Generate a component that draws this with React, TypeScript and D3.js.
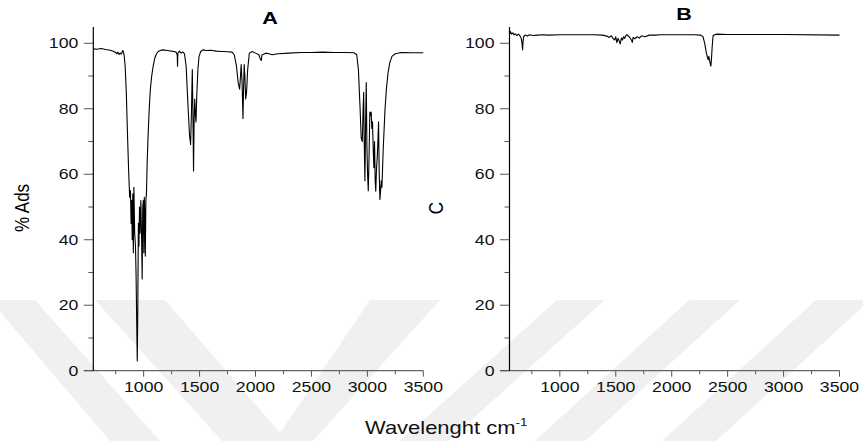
import React from "react";
import * as d3 from "d3";

// spectrum A (wavenumber cm-1 / % Ads)
const waveA = [550, 580, 620, 660, 700, 730, 750, 760, 770, 780, 790, 800, 810, 815, 825, 835, 845, 855, 865, 875, 882, 888, 893, 898, 903, 908, 913, 920, 927, 932, 938, 943, 948, 953, 958, 963, 968, 975, 982, 987, 992, 997, 1002, 1006, 1010, 1015, 1020, 1025, 1032, 1040, 1050, 1060, 1072, 1085, 1100, 1115, 1130, 1150, 1170, 1200, 1230, 1260, 1290, 1300, 1303, 1306, 1320, 1335, 1350, 1365, 1380, 1395, 1410, 1420, 1428, 1435, 1440, 1446, 1452, 1457, 1463, 1468, 1475, 1485, 1495, 1510, 1530, 1560, 1600, 1650, 1700, 1750, 1790, 1810, 1830, 1845, 1858, 1866, 1872, 1880, 1888, 1893, 1899, 1905, 1912, 1920, 1930, 1945, 1970, 2000, 2030, 2045, 2052, 2058, 2070, 2090, 2120, 2150, 2200, 2300, 2400, 2500, 2600, 2700, 2800, 2880, 2905, 2920, 2935, 2945, 2955, 2962, 2967, 2972, 2978, 2984, 2990, 2996, 3002, 3008, 3015, 3022, 3028, 3034, 3040, 3046, 3052, 3058, 3064, 3070, 3075, 3082, 3088, 3094, 3100, 3106, 3112, 3118, 3124, 3130, 3136, 3142, 3150, 3158, 3170, 3185, 3200, 3220, 3250, 3300, 3400, 3500];
const adsA = [98.3, 98.2, 98.4, 98.1, 97.9, 97.6, 97.2, 96.8, 97.3, 96.6, 97.0, 96.7, 97.5, 97.8, 96.5, 93, 85, 73, 62, 53, 55, 45, 52, 40, 54, 36, 56, 42, 38, 30, 15, 3, 20, 45, 38, 50, 42, 52, 40, 28, 50, 52, 36, 53, 48, 35, 52, 54, 64, 72, 80, 86, 90, 93, 95.5, 96.8, 97.5, 97.8, 98, 97.9, 97.7, 97.6, 97.3, 96.5, 93, 97, 97.6, 97, 97.4, 96.8, 93, 82, 72, 69, 80, 92, 80, 61, 78, 83, 78, 76, 84, 92, 96, 97.5, 98, 97.8, 97.9, 97.6, 97.5, 97.4, 97.3, 96.5, 93, 88, 86, 90, 93.5, 88, 77, 86, 93.5, 90, 83, 85, 92, 97, 97.5, 97, 96.5, 95, 94.8, 96.5, 96.6, 97, 96.8, 96.5, 96.8, 97, 97.2, 97.2, 97.3, 97.2, 97.2, 97.1, 96.5, 92, 80, 71, 70, 80, 85, 70, 58, 75, 88, 68, 60, 55, 65, 79, 78, 79, 74, 76, 68, 62, 70, 58, 54.8, 62, 65, 70, 76, 60, 52.3, 55, 58, 56, 62, 68, 74, 80, 86, 91, 94, 96, 96.8, 97.2, 97.1, 97.1];

// spectrum B
const waveB = [550, 555, 560, 570, 580, 590, 600, 615, 630, 645, 655, 662, 667, 671, 676, 690, 710, 730, 760, 800, 850, 900, 1000, 1100, 1200, 1300, 1380, 1420, 1440, 1460, 1475, 1490, 1500, 1510, 1520, 1530, 1540, 1550, 1560, 1570, 1580, 1590, 1600, 1620, 1640, 1648, 1655, 1670, 1690, 1710, 1730, 1760, 1800, 1850, 1900, 2000, 2100, 2200, 2260, 2280, 2295, 2310, 2325, 2332, 2340, 2350, 2355, 2362, 2370, 2400, 2500, 3000, 3500];
const adsB = [104, 103, 103.5, 102.8, 103.2, 102.6, 102.9, 102.4, 102.8, 102.2, 101.5, 100, 98, 100.5, 102, 102.5, 102.2, 102.6, 102.4, 102.5, 102.6, 102.5, 102.6, 102.6, 102.6, 102.6, 102.5, 102.2, 101.8, 102.3, 101.5, 101, 102, 100.2, 101.5, 100.8, 99.8, 101.6, 101, 102, 101.5, 102.4, 102.6, 102, 101, 100.3, 101.8, 101.4, 102, 101.6, 102.3, 102, 102.5, 102.5, 102.6, 102.6, 102.6, 102.6, 102.5, 102, 100, 97, 95, 96, 94.5, 93, 95, 99, 102.4, 102.8, 102.7, 102.7, 102.5];

const xDomain = [550, 3500];
const xMajor = [1000, 1500, 2000, 2500, 3000, 3500];
const xMinor = [750, 1250, 1750, 2250, 2750, 3250];
const yMajor = [0, 20, 40, 60, 80, 100];
const yMinor = [10, 30, 50, 70, 90];

// faint diagonal watermark bands in the background
const stripes = [
  "-10,300 35,300 160,441 110,441",
  "95,300 165,300 280,433 370,300 440,300 313,441 222,441",
  "557,300 605,300 448,441 400,441",
  "689,300 740,300 585,441 535,441",
  "816,300 870,300 716,441 662,441",
];

const W = 863;
const H = 441;
const SX = 1.22;
const FONT = "'Liberation Sans', Arial, Helvetica, sans-serif";
const y = d3.scaleLinear().domain([0, 100]).range([370.7, 43.3]);

function Panel({ x0, title, titleX, titleY, yTitle, yTitleX, wave, ads }) {
  const x = d3.scaleLinear().domain(xDomain).range([x0, x0 + 330]);
  const line = d3
    .line<number>()
    .x((_, i) => x(wave[i]))
    .y((d) => y(d));
  const yb = y(0);

  return (
    <g>
      {/* x axis */}
      <line x1={x0 - 9.5} x2={x(3500)} y1={yb} y2={yb} stroke="#666" strokeWidth={1.2} />
      {xMajor.map((t) => (
        <line key={"M" + t} x1={x(t)} x2={x(t)} y1={yb} y2={yb + 6} stroke="#555" />
      ))}
      {xMinor.map((t) => (
        <line key={"m" + t} x1={x(t)} x2={x(t)} y1={yb} y2={yb + 3.5} stroke="#555" />
      ))}
      {xMajor.map((t) => (
        <text
          key={"l" + t}
          transform={`translate(${x(t)},392) scale(${SX},1)`}
          textAnchor="middle"
          fontSize={14.5}
          fill="#111"
        >
          {t}
        </text>
      ))}

      {/* y axis */}
      {yMajor.map((t) => (
        <line key={"M" + t} x1={x0 - 9.5} x2={x0} y1={y(t)} y2={y(t)} stroke="#555" />
      ))}
      {yMinor.map((t) => (
        <line key={"m" + t} x1={x0 - 5} x2={x0} y1={y(t)} y2={y(t)} stroke="#555" />
      ))}
      {yMajor.map((t) => (
        <text
          key={"l" + t}
          transform={`translate(${x0 - 15},${y(t) + 5}) scale(${SX},1)`}
          textAnchor="end"
          fontSize={14.5}
          fill="#111"
        >
          {t}
        </text>
      ))}
      <line x1={x0} x2={x0} y1={y(105)} y2={yb} stroke="#000" strokeWidth={1.2} />

      <path d={line(ads) || ""} fill="none" stroke="#000" strokeWidth={1.1} strokeLinejoin="round" />

      <text
        transform={`translate(${titleX},${titleY}) scale(1.35,1)`}
        textAnchor="middle"
        fontSize={16}
        fontWeight="bold"
      >
        {title}
      </text>
      <text
        transform={`translate(${yTitleX},208) scale(${SX},1) rotate(-90)`}
        textAnchor="middle"
        dominantBaseline="central"
        fontSize={17}
      >
        {yTitle}
      </text>
    </g>
  );
}

export default function App() {
  return (
    <svg
      width={W}
      height={H}
      style={{ position: "absolute", left: 0, top: 0, background: "#fff" }}
      fontFamily={FONT}
    >
      <rect width={W} height={H} fill="#fff" />
      {stripes.map((p, i) => (
        <polygon key={i} points={p} fill="#f0f0f0" />
      ))}
      <Panel x0={93.3} title="A" titleX={270} titleY={24} yTitle="% Ads" yTitleX={22} wave={waveA} ads={adsA} />
      <Panel x0={509.5} title="B" titleX={684} titleY={20} yTitle="C" yTitleX={436} wave={waveB} ads={adsB} />
      <text transform={`translate(365,434) scale(${SX},1)`} fontSize={18} fill="#111">
        Wavelenght cm
        <tspan fontSize={11} dy={-8}>
          -1
        </tspan>
      </text>
    </svg>
  );
}
